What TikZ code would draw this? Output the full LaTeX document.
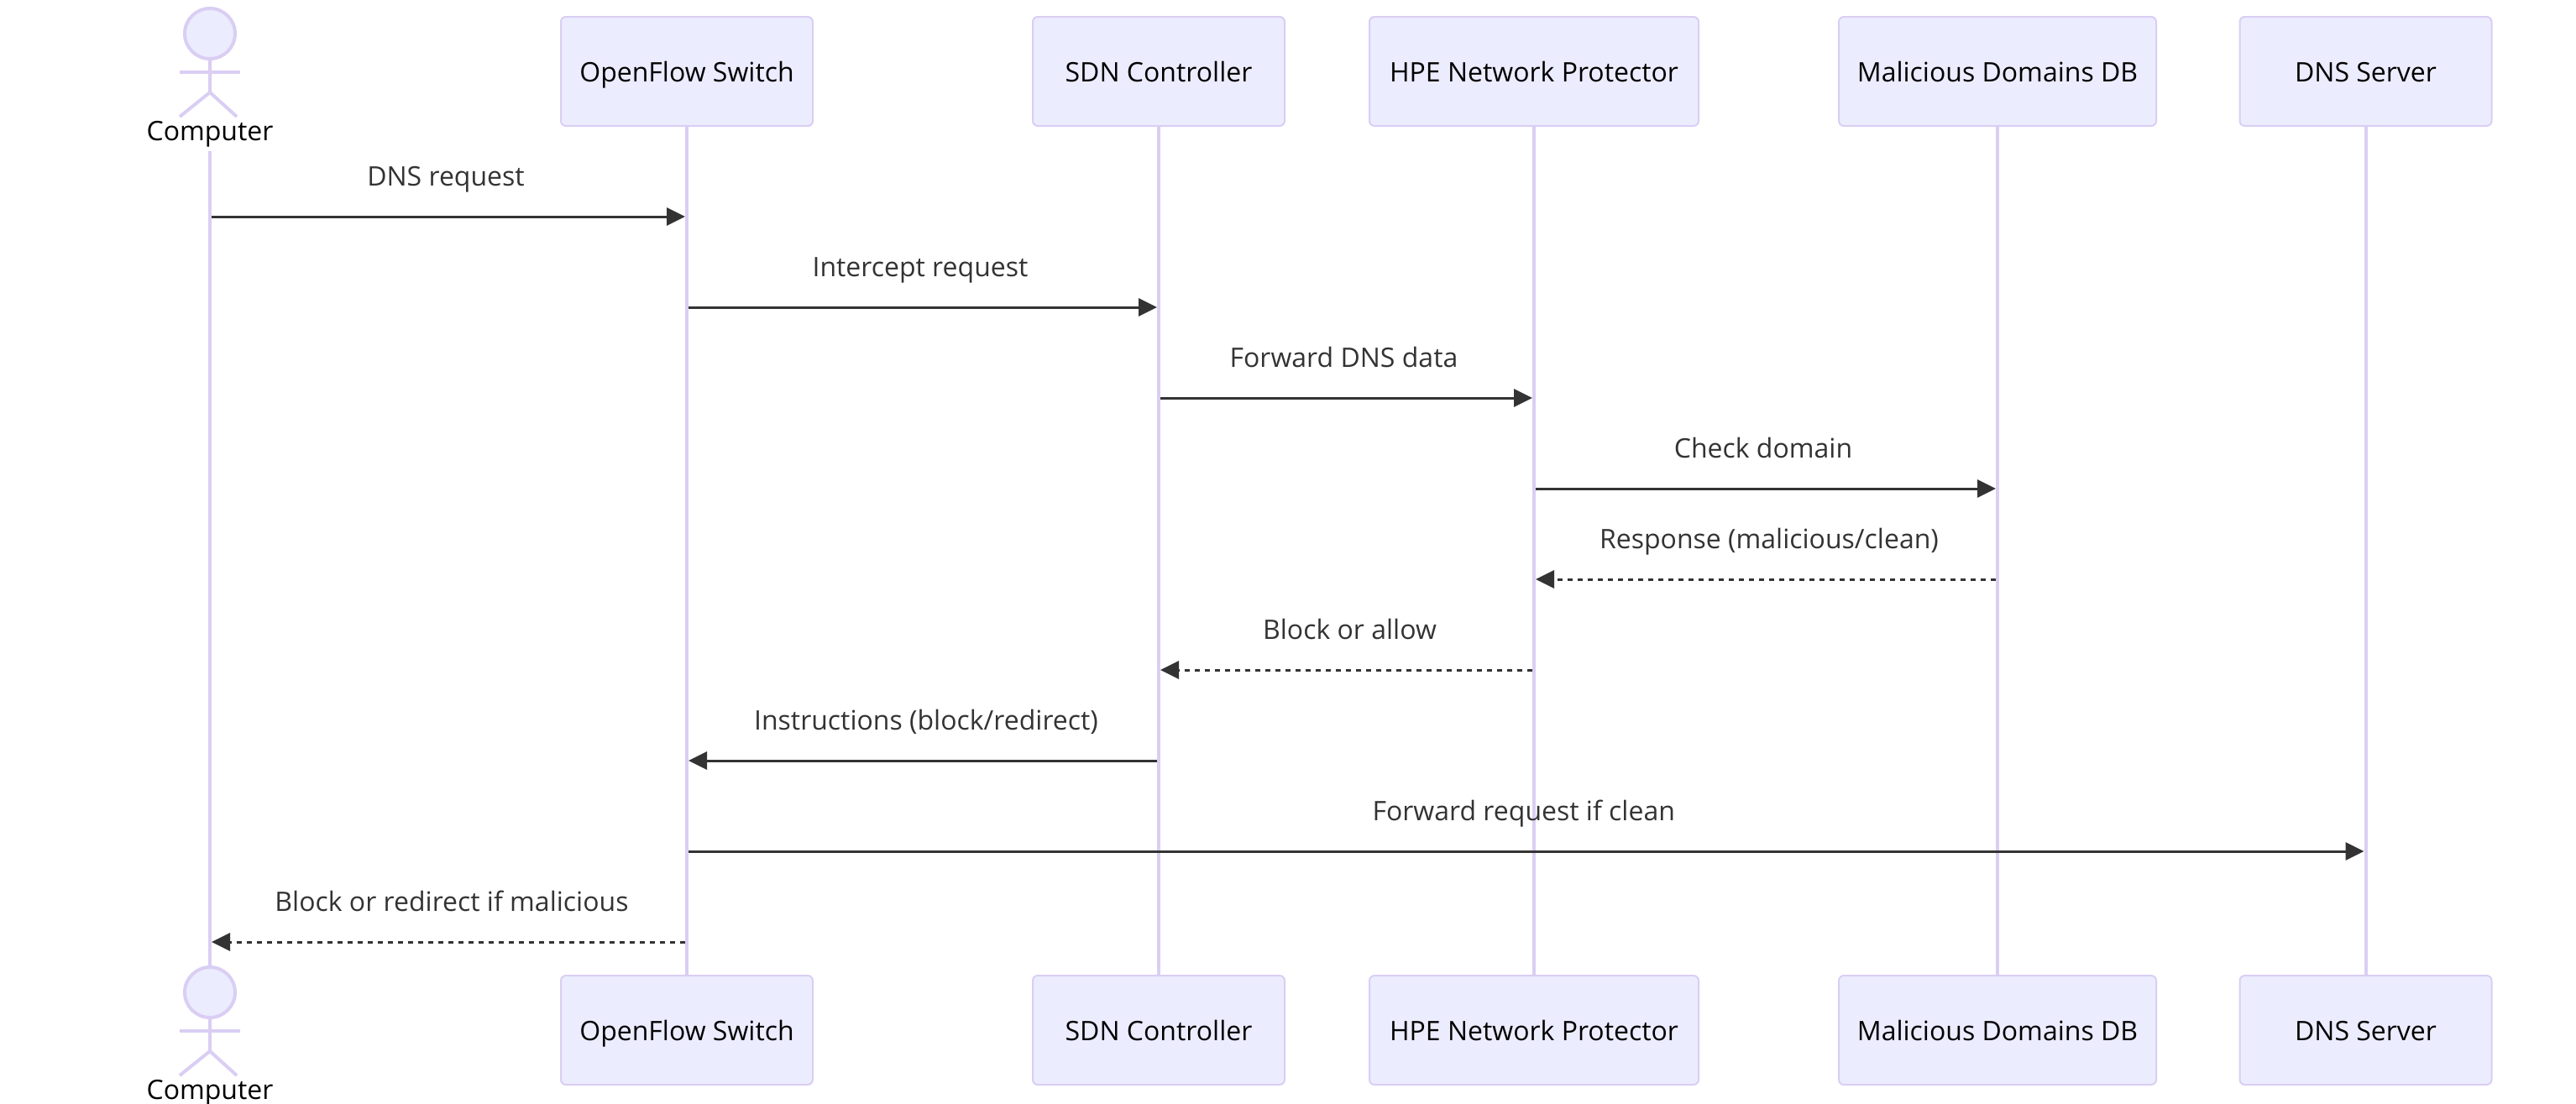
\documentclass[tikz,border=0pt]{standalone}
\usepackage{fontspec}
\setmainfont{Open Sans}
\usepackage{xcolor}
\usetikzlibrary{arrows.meta, positioning}

\definecolor{actorfill}{HTML}{ECECFF}
\definecolor{actorline}{HTML}{DACEF3}
\definecolor{msgcolor}{HTML}{333333}

\begin{document}
\begin{tikzpicture}[
	box/.style={draw=actorline, fill=actorfill, line width=1pt, rounded corners=3pt, minimum width=150pt, minimum height=65pt, outer sep=0pt, inner sep=0pt, text height=12.4pt, text depth=0pt, font=\fontsize{16pt}{19pt}\selectfont},
	head/.style={circle, draw=actorline, fill=actorfill, line width=2pt, minimum size=30pt, inner sep=0pt, outer sep=0pt},
	stick/.style={draw=actorline, line width=2pt},
	actortext/.style={anchor=base, inner sep=0pt, font=\fontsize{16pt}{19pt}\selectfont},
	life/.style={draw=actorline, line width=2pt},
	msg/.style={draw=msgcolor, line width=1.5pt, -{Triangle[length=11pt, width=10.5pt]}, shorten >=1pt, shorten <=1pt},
	reply/.style={msg, dash pattern=on 3pt off 3pt},
	msgtext/.style={midway, above=17.5pt, xshift=-1.5pt, inner sep=0pt, text depth=0pt, text=msgcolor, font=\fontsize{16pt}{19pt}\selectfont},
	backtext/.style={msgtext, xshift=3.5pt}
	]
	\useasboundingbox (0,0) rectangle (1534pt,-657pt);
	
	% Computer, top and bottom
	\foreach \name/\ypos in {comp/-20pt, compBot/-591pt} {
		\node[head] (\name) at (125pt,\ypos) {};
		\draw[stick] (\name.south) -- ++(0,-20pt) coordinate (\name Hip) -- ++(-18pt,-14.5pt);
		\draw[stick] (\name Hip) -- ++(16pt,-14.5pt);
		\draw[stick] ([xshift=-18pt,yshift=-23pt]\name.center) -- ([xshift=18pt,yshift=-23pt]\name.center);
		\node[actortext] (\name Label) at ([yshift=-63.5pt]\name.center) {Computer};
	}
	\coordinate[below=6.5pt of compLabel.base] (compStart);
	
	% Top row
	\node[box] (switch) at (409pt,-42.5pt) {OpenFlow Switch};
	\node[box, right=131pt of switch] (ctrl) {SDN Controller};
	\node[box, minimum width=196pt, right=50.5pt of ctrl] (hpe) {HPE Network Protector};
	\node[box, minimum width=189pt, right=83.5pt of hpe] (db) {Malicious Domains DB};
	\node[box, right=49.75pt of db] (dns) {DNS Server};
	
	% Bottom row
	\node[box, below=506pt of switch] (switchBot) {OpenFlow Switch};
	\node[box, below=506pt of ctrl] (ctrlBot) {SDN Controller};
	\node[box, minimum width=196pt, below=506pt of hpe] (hpeBot) {HPE Network Protector};
	\node[box, minimum width=189pt, below=506pt of db] (dbBot) {Malicious Domains DB};
	\node[box, below=506pt of dns] (dnsBot) {DNS Server};
	
	% Lifelines
	\draw[life] (compStart) -- (compBot.north);
	\foreach \name in {switch, ctrl, hpe, db, dns} {
		\draw[life] (\name.south) -- (\name Bot.north);
	}
	
	% Message rows
	\foreach \i in {1,...,9} {
		\coordinate (row\i) at (0,{-129pt-(\i-1)*54pt});
	}
	
	% Messages
	\draw[msg] (comp |- row1) -- node[msgtext] {DNS request} (switch |- row1);
	\draw[msg] (switch |- row2) -- node[msgtext] {Intercept request} (ctrl |- row2);
	\draw[msg] (ctrl |- row3) -- node[msgtext] {Forward DNS data} (hpe |- row3);
	\draw[msg] (hpe |- row4) -- node[msgtext] {Check domain} (db |- row4);
	\draw[reply] (db |- row5) -- node[backtext] {Response (malicious/clean)} (hpe |- row5);
	\draw[reply] (hpe |- row6) -- node[backtext] {Block or allow} (ctrl |- row6);
	\draw[msg] (ctrl |- row7) -- node[backtext] {Instructions (block/redirect)} (switch |- row7);
	\draw[msg] (switch |- row8) -- node[msgtext] {Forward request if clean} (dns |- row8);
	\draw[reply] (switch |- row9) -- node[backtext] {Block or redirect if malicious} (comp |- row9);
	
\end{tikzpicture}
\end{document}
